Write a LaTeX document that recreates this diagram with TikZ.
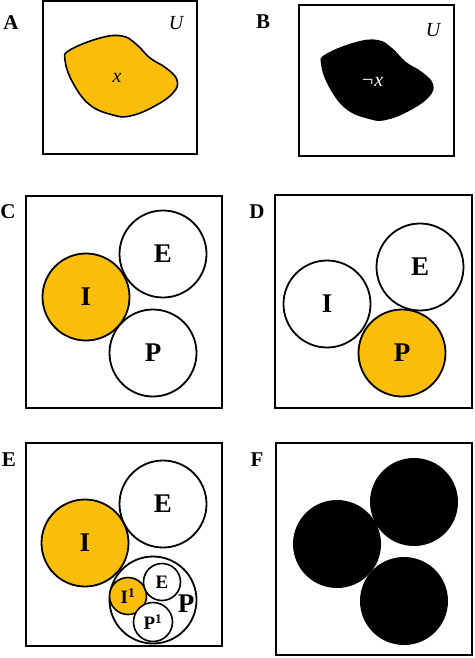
\documentclass[tikz,border=0pt]{standalone}
\usepackage{fontspec}
\setmainfont{Liberation Serif}
\definecolor{gold}{RGB}{250,190,10}
\begin{document}
\begin{tikzpicture}[x=1pt,y=-1pt,
  panel/.style={draw=black,line width=2.4pt,fill=white},
  plabel/.style={font=\bfseries\fontsize{21}{21}\selectfont,inner sep=0pt},
  set/.style={circle,draw=black,line width=1.8pt,fill=white,minimum size=87pt,inner sep=0pt,font=\bfseries\fontsize{27}{27}\selectfont},
  hot/.style={set,fill=gold},
  dark/.style={circle,fill=black,draw=none,minimum size=88pt,inner sep=0pt},
  small/.style={circle,draw=black,line width=1.6pt,fill=white,minimum size=37pt,inner sep=0pt,font=\bfseries\fontsize{19}{19}\selectfont},
  ulabel/.style={font=\itshape\fontsize{20}{20}\selectfont,inner sep=0pt}]
\useasboundingbox (0,0) rectangle (474,658);
\fill[white] (0,0) rectangle (474,658);
% ---- panel A
\node[plabel] (lA) at (11,23) {A};
\draw[panel] (43,1) rectangle (197,154);
\node[ulabel] (uA) at (176,23) {U};
\draw[line width=1.6pt,fill=gold] plot[smooth cycle,tension=0.7] coordinates
 {(70,50) (100,38) (122,36) (136,44) (150,58) (166,68) (177,80) (173,93) (153,107) (130,116) (113,115) (90,105) (73,83) (65,60)};
\node[ulabel] (xA) at (117,78) {x};
% ---- panel B
\node[plabel] (lB) at (263,22) {B};
\draw[panel] (299,5) rectangle (454,156);
\node[ulabel] (uB) at (433,30) {U};
\begin{scope}[shift={(256,4)}]
\fill[black] plot[smooth cycle,tension=0.7] coordinates
 {(70,50) (100,38) (122,36) (136,44) (150,58) (166,68) (177,80) (173,93) (153,107) (130,116) (113,115) (90,105) (73,83) (65,60)};
\end{scope}
\node[ulabel,text=white] (xB) at (372,82) {¬x};
% ---- panel C
\node[plabel] (lC) at (8,212) {C};
\draw[panel] (26,196) rectangle (222,408);
\node[hot] (cI) at (86,297) {I};
\node[set] (cE) at (163,254) {E};
\node[set] (cP) at (153,353) {P};
% ---- panel D
\node[plabel] (lD) at (257,212) {D};
\draw[panel] (275,195) rectangle (472,408);
\node[set] (dI) at (327,304) {I};
\node[set] (dE) at (420,267) {E};
\node[hot] (dP) at (402,353) {P};
% ---- panel E
\node[plabel] (lE) at (9,460) {E};
\draw[panel] (26,443) rectangle (222,646);
\node[hot] (eI) at (85,543) {I};
\node[set] (eE) at (163,504) {E};
\node[set] (eP) at (153,600) {};
\node[font=\bfseries\fontsize{27}{27}\selectfont,inner sep=0pt] (ePl) at (186,604) {P};
\node[small,fill=gold] (eI1) at (128,596) {I\textsuperscript{1}};
\node[small] (eE1) at (162,582) {E};
\node[small,minimum size=39pt] (eP1) at (153,622) {P\textsuperscript{1}};
% ---- panel F
\node[plabel] (lF) at (257,460) {F};
\draw[panel] (276,443) rectangle (472,655);
\node[dark] (f1) at (337,544) {};
\node[dark] (f2) at (414,502) {};
\node[dark] (f3) at (404,601) {};
\end{tikzpicture}
\end{document}
